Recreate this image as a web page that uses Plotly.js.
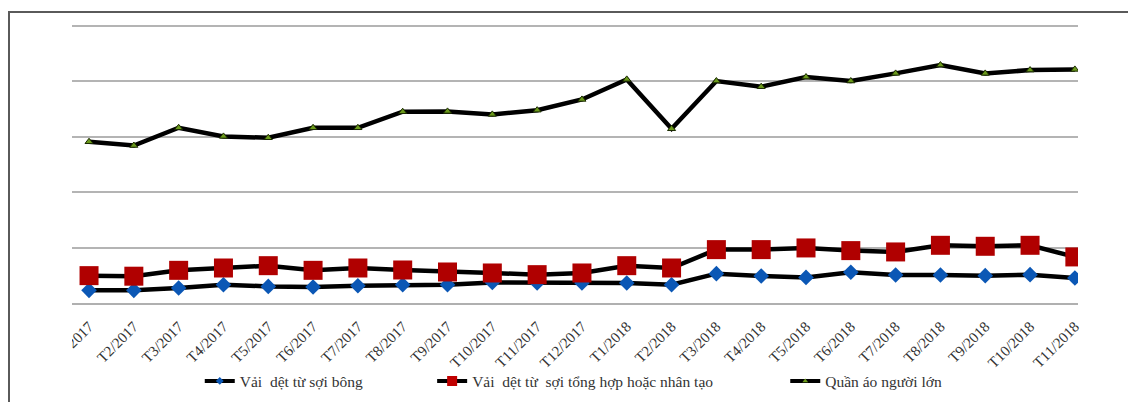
<!DOCTYPE html>
<html>
<head>
<meta charset="utf-8">
<script src="https://cdn.plot.ly/plotly-3.0.1.min.js"></script>
<style>
  html, body { margin: 0; padding: 0; background: #fff; }
  #wrap { position: relative; width: 1128px; height: 402px; overflow: hidden; background: #fff; }
  #frame { position: absolute; left: 8px; top: 11px; width: 1200px; height: 500px;
           border-top: 2px solid #5a5a5a; border-left: 2px solid #5a5a5a; }
  #chart { position: absolute; left: 0; top: 0; width: 1128px; height: 402px; }
  #clip { position: absolute; left: 10px; top: 306px; width: 62px; height: 60px; background: #fff; }
</style>
</head>
<body>
<div id="wrap">
  <div id="frame"></div>
  <div id="chart"></div>
  <div id="clip"></div>
</div>
<script>
const months = ["T1/2017","T2/2017","T3/2017","T4/2017","T5/2017","T6/2017","T7/2017","T8/2017",
                "T9/2017","T10/2017","T11/2017","T12/2017","T1/2018","T2/2018","T3/2018","T4/2018",
                "T5/2018","T6/2018","T7/2018","T8/2018","T9/2018","T10/2018","T11/2018"];

const vaiSoiBong = [11.4, 11.4, 13.6, 16.5, 15.0, 14.5, 15.6, 16.5, 16.5, 18.6, 18.1, 18.1,
                    18.1, 16.5, 26.5, 24.4, 23.1, 27.7, 25.3, 25.3, 24.7, 25.6, 22.6];

const vaiTongHop = [24.7, 24.2, 29.5, 31.6, 33.7, 29.5, 31.6, 29.8, 28.0, 27.1, 25.6, 27.1,
                    33.7, 31.6, 48.2, 48.2, 49.7, 47.3, 46.1, 52.1, 51.2, 52.1, 41.6];

const quanAo = [145.6, 142.2, 158.2, 150.4, 149.2, 158.2, 158.2, 172.7, 173.0, 170.3, 174.1, 183.8,
                201.9, 157.3, 200.4, 195.3, 204.0, 200.4, 207.3, 214.8, 207.3, 210.3, 210.9];

const names = ["Vải  dệt từ sợi bông", "Vải  dệt từ  sợi tổng hợp hoặc nhân tạo", "Quần áo người lớn"];

const serif = "Liberation Serif, Times New Roman, serif";
const LW = 4.5;

const traces = [
  { x: months, y: vaiSoiBong, name: names[0], type: "scatter", mode: "lines+markers", showlegend: false,
    line: { color: "#000", width: LW },
    marker: { symbol: "diamond", size: 12, color: "#0b57b5" } },
  { x: months, y: vaiTongHop, name: names[1], type: "scatter", mode: "lines+markers", showlegend: false,
    line: { color: "#000", width: LW },
    marker: { symbol: "square", size: 19, color: "#b00000" } },
  { x: months, y: quanAo, name: names[2], type: "scatter", mode: "lines+markers", showlegend: false,
    line: { color: "#000", width: LW },
    marker: { symbol: "triangle-up", size: 7, color: "#6b9a1c", line: { color: "#1a2a00", width: 1 } } },
  // legend entries (no data drawn)
  { x: [null], y: [null], name: names[0], type: "scatter", mode: "lines+markers", legend: "legend",
    line: { color: "#000", width: 4 }, marker: { symbol: "diamond", size: 6, color: "#0b57b5" } },
  { x: [null], y: [null], name: names[1], type: "scatter", mode: "lines+markers", legend: "legend2",
    line: { color: "#000", width: 4 }, marker: { symbol: "square", size: 10, color: "#c00000" } },
  { x: [null], y: [null], name: names[2], type: "scatter", mode: "lines+markers", legend: "legend3",
    line: { color: "#000", width: 4 }, marker: { symbol: "triangle-up", size: 5, color: "#6b9a1c" } }
];

const legBase = { orientation: "h", yanchor: "middle", xanchor: "left", y: -0.282,
                  font: { family: serif, size: 15.5, color: "#333" }, bgcolor: "rgba(0,0,0,0)" };

const layout = {
  width: 1128, height: 402,
  margin: { l: 72, r: 50, t: 25, b: 99, autoexpand: false },
  paper_bgcolor: "rgba(0,0,0,0)",
  plot_bgcolor: "rgba(0,0,0,0)",
  showlegend: true,
  xaxis: {
    type: "category", range: [-0.38, 22.07], automargin: false,
    showgrid: false, zeroline: false,
    showline: true, linecolor: "#b0b0b0", linewidth: 2,
    ticks: "", tickangle: -45, ticklabelstandoff: 7,
    tickfont: { family: serif, size: 15, color: "#333" }
  },
  yaxis: {
    range: [0, 251], dtick: 50, showticklabels: false, automargin: false,
    showgrid: true, gridcolor: "#b4b4b4", gridwidth: 2, zeroline: false, ticks: ""
  },
  legend: Object.assign({}, legBase, { x: 0.127 }),
  legend2: Object.assign({}, legBase, { x: 0.358 }),
  legend3: Object.assign({}, legBase, { x: 0.709 })
};

Plotly.newPlot("chart", traces, layout, { displayModeBar: false, staticPlot: true });
</script>
</body>
</html>
